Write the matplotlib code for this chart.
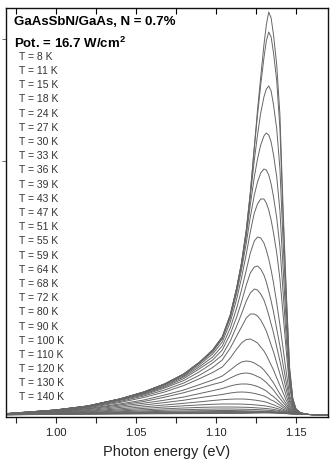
import numpy as np
import matplotlib
matplotlib.use("Agg")
import matplotlib.pyplot as plt
from matplotlib.ticker import MultipleLocator

plt.rcParams["font.family"] = ["Liberation Sans", "DejaVu Sans"]
plt.rcParams["mathtext.fontset"] = "custom"
plt.rcParams["mathtext.rm"] = "Liberation Sans"
plt.rcParams["mathtext.bf"] = "Liberation Sans:bold"

# ── Data (arbitrary PL units) ────────────────────────────────
temps = [8, 11, 15, 18, 24, 27, 30, 33, 36, 39, 43, 47, 51, 55, 59,
         64, 68, 72, 80, 90, 100, 110, 120, 130, 140]

energy = [0.970, 1.000, 1.020, 1.040, 1.055, 1.068, 1.080, 1.090, 1.098,
          1.104, 1.109, 1.113, 1.116, 1.119, 1.1215, 1.124, 1.126, 1.128,
          1.130, 1.1315, 1.133, 1.1345, 1.136, 1.138, 1.140, 1.142, 1.144,
          1.146, 1.148, 1.150, 1.153, 1.158, 1.170]

spectra = [
    [1.5, 5, 9, 16, 23, 31, 41, 53, 65, 78, 100, 127, 152, 185, 222, 268, 305, 338, 370, 390, 403, 397, 380, 350, 300, 205, 122, 48, 17, 6, 2, 0.5, 0],
    [1.5, 5, 9, 16, 23, 31, 41, 53, 65, 78, 100, 127, 152, 185, 222, 267, 300, 330, 357, 374, 383, 378, 362, 334, 286, 196, 117, 46, 16, 6, 2, 0.5, 0],
    [1.5, 5, 9, 16, 23, 31, 41, 53, 65, 78, 100, 127, 151, 183, 218, 255, 280, 302, 318, 326, 329, 324, 310, 286, 246, 172, 105, 42, 15, 6, 2, 0.5, 0],
    [1.5, 5, 9, 16, 23, 31, 41, 53, 64, 77, 99, 125, 149, 179, 210, 238, 256, 270, 279, 282, 280, 273, 260, 238, 204, 146, 90, 37, 14, 5.5, 2, 0.5, 0],
    [1.4, 5, 9, 16, 22.5, 30.5, 40, 52, 63, 76, 97, 122, 145, 172, 198, 220, 233, 242, 246, 245, 240, 231, 218, 197, 168, 122, 76, 32, 12, 5, 2, 0.5, 0],
    [1.4, 5, 9, 16, 22, 30, 39, 50.5, 61, 73, 93, 116, 137, 161, 183, 202, 211, 216, 216, 212, 205, 195, 182, 162, 136, 100, 63, 28, 11, 5, 2, 0.5, 0],
    [1.4, 4.8, 8.8, 15.5, 21.5, 29, 38, 48.5, 58, 69, 87, 107, 125, 145, 162, 174, 178, 177, 172, 165, 156, 145, 132, 112, 90, 66, 42, 20, 9, 4.5, 2, 0.5, 0],
    [1.3, 4.6, 8.5, 15, 21, 28, 36.5, 46.5, 55, 65, 81, 98, 113, 130, 142, 148, 149, 146, 140, 133, 124, 114, 103, 86, 69, 50, 32, 16, 7.5, 4, 1.8, 0.5, 0],
    [1.3, 4.4, 8.2, 14.5, 20, 27, 34.5, 43.5, 52, 60, 74, 89, 101, 114, 122, 126, 125, 121, 115, 108, 100, 91, 82, 68, 54, 39, 25, 13, 6.5, 3.5, 1.7, 0.5, 0],
    [1.2, 4.2, 7.8, 13.5, 19, 25, 32, 40, 47.5, 55, 67, 79, 88, 97, 101, 101, 99, 95, 89, 84, 77, 70, 63, 52, 41, 30, 19, 10, 5.5, 3, 1.6, 0.5, 0],
    [1.1, 4, 7.2, 12.5, 17.5, 23, 29.5, 36.5, 42.5, 48, 57, 66, 72, 75.5, 76, 74, 72, 68, 64, 60, 55, 50, 45, 37, 29.5, 22, 14.5, 8, 4.5, 2.7, 1.5, 0.5, 0],
    [1, 3.6, 6.5, 11, 15, 20, 25, 30.5, 35, 39, 45, 50, 53, 54, 53.5, 52, 50, 48, 45, 42, 39, 35.5, 32, 26.5, 21, 16, 11, 6.5, 3.8, 2.4, 1.4, 0.5, 0],
    [1, 3.3, 6, 10, 13.5, 17.8, 22.3, 26.8, 30.5, 33, 37, 40, 41.5, 42, 41.5, 40, 38.5, 37, 34.5, 32.5, 30, 27.5, 25, 20.5, 16.5, 12.5, 8.8, 5.5, 3.3, 2.2, 1.3, 0.5, 0],
    [0.9, 3, 5.3, 8.8, 11.8, 14.8, 18, 21.5, 24.3, 26.5, 29, 30.5, 31, 31, 30.5, 29.5, 28.5, 27, 25.5, 24, 22, 20, 18.5, 15.5, 12.5, 9.5, 7, 4.5, 2.9, 2, 1.2, 0.5, 0],
    [0.8, 2.6, 4.5, 7.5, 10, 12.4, 14.8, 17.3, 19.2, 20.5, 22, 22.8, 23, 22.8, 22.3, 21.6, 20.8, 20, 19, 18, 16.5, 15, 14, 12, 9.8, 7.5, 5.6, 3.8, 2.6, 1.8, 1.1, 0.5, 0],
    [0.7, 2.2, 3.8, 6.2, 8.2, 10, 11.7, 13.2, 14.5, 15.3, 15.8, 16, 16, 15.8, 15.4, 15, 14.5, 14, 13.4, 12.8, 12, 11, 10.2, 8.8, 7.4, 5.8, 4.4, 3.1, 2.2, 1.6, 1, 0.5, 0],
    [0.6, 1.8, 3.2, 5.1, 6.6, 8, 9.2, 10.1, 10.7, 11, 11, 11, 10.9, 10.7, 10.5, 10.2, 9.9, 9.6, 9.3, 8.9, 8.5, 8, 7.5, 6.6, 5.6, 4.5, 3.5, 2.6, 1.9, 1.4, 0.9, 0.5, 0],
    [0.5, 1.5, 2.6, 4.1, 5.2, 6.2, 7, 7.6, 7.9, 8, 8, 7.9, 7.8, 7.7, 7.5, 7.3, 7.1, 6.9, 6.7, 6.5, 6.2, 5.9, 5.6, 5, 4.3, 3.6, 2.9, 2.2, 1.7, 1.3, 0.9, 0.5, 0],
    [0.5, 1.3, 2.2, 3.3, 4.1, 4.8, 5.3, 5.7, 5.9, 6, 6, 5.9, 5.8, 5.7, 5.6, 5.5, 5.4, 5.2, 5.1, 4.9, 4.7, 4.5, 4.3, 3.9, 3.4, 2.9, 2.4, 1.9, 1.5, 1.2, 0.9, 0.5, 0],
    [0.4, 1.1, 1.8, 2.6, 3.2, 3.7, 4.0, 4.3, 4.4, 4.5, 4.5, 4.4, 4.3, 4.2, 4.1, 4.0, 3.95, 3.9, 3.85, 3.8, 3.7, 3.5, 3.3, 3.0, 2.7, 2.3, 1.9, 1.6, 1.3, 1.1, 0.9, 0.5, 0],
    [0.4, 1, 1.5, 2.1, 2.5, 2.9, 3.1, 3.3, 3.4, 3.5, 3.5, 3.4, 3.4, 3.3, 3.3, 3.3, 3.35, 3.4, 3.4, 3.35, 3.3, 3.2, 3.0, 2.7, 2.4, 2.1, 1.8, 1.5, 1.2, 1.0, 0.9, 0.5, 0],
    [0.3, 0.9, 1.3, 1.8, 2.1, 2.4, 2.6, 2.7, 2.8, 2.9, 2.9, 2.9, 2.9, 2.9, 2.95, 3.0, 3.05, 3.1, 3.1, 3.05, 3.0, 2.9, 2.75, 2.5, 2.2, 1.9, 1.7, 1.4, 1.2, 1.0, 0.9, 0.5, 0],
    [0.3, 0.8, 1.1, 1.5, 1.8, 2.0, 2.1, 2.2, 2.3, 2.3, 2.4, 2.4, 2.4, 2.5, 2.55, 2.6, 2.7, 2.75, 2.8, 2.75, 2.7, 2.6, 2.5, 2.3, 2.0, 1.8, 1.6, 1.3, 1.1, 1.0, 0.9, 0.5, 0],
    [0.3, 0.7, 0.95, 1.25, 1.45, 1.6, 1.7, 1.8, 1.85, 1.9, 1.95, 2.0, 2.0, 2.1, 2.2, 2.3, 2.35, 2.4, 2.45, 2.45, 2.4, 2.3, 2.2, 2.05, 1.85, 1.65, 1.5, 1.25, 1.1, 1.0, 0.9, 0.5, 0],
    [0.2, 0.6, 0.8, 1.0, 1.15, 1.25, 1.35, 1.4, 1.45, 1.5, 1.55, 1.6, 1.65, 1.7, 1.8, 1.9, 1.95, 2.0, 2.05, 2.05, 2.0, 1.95, 1.9, 1.8, 1.65, 1.5, 1.35, 1.2, 1.05, 1.0, 0.9, 0.5, 0],
]

xticks = [1.00, 1.05, 1.10, 1.15]

# ── Plot ───────────────────────────────────────────────────
fig = plt.figure(figsize=(3.32, 4.60), dpi=100)
ax = fig.add_axes([6 / 332, 42 / 460, 322 / 332, 409 / 460])

for s in spectra:
    ax.plot(energy, s, color="#666666", lw=0.7)

ax.set_xlim(0.969, 1.170)
ax.set_ylim(-2, 407)

ax.set_xticks(xticks)
ax.set_xticklabels([f"{t:.2f}" for t in xticks])
ax.xaxis.set_minor_locator(MultipleLocator(0.025))
ax.tick_params(axis="x", which="both", direction="out", length=4, width=0.8,
               labelsize=8, colors="#222222", top=False)
ax.set_yticks([376, 254])
ax.set_yticklabels([])
ax.tick_params(axis="y", direction="out", length=3, width=0.6, colors="#555555")

# inward ticks on the top edge
top = ax.secondary_xaxis("top")
top.set_xticks(xticks)
top.xaxis.set_minor_locator(MultipleLocator(0.025))
top.tick_params(axis="x", which="both", direction="in", length=4, width=0.8,
                labeltop=False)
top.spines["top"].set_visible(False)

for sp in ax.spines.values():
    sp.set_linewidth(1.0)
    sp.set_color("#111111")

ax.set_xlabel("Photon energy (eV)", fontsize=10.5, color="#222222", labelpad=5)

ax.text(0.025, 0.968, "GaAsSbN/GaAs, N = 0.7%", transform=ax.transAxes,
        fontsize=9.5, fontweight="bold", va="center", ha="left")
ax.text(0.025, 0.916, r"Pot. = 16.7 W/cm$^{\mathregular{2}}$", transform=ax.transAxes,
        fontsize=9.5, fontweight="bold", va="center", ha="left")

for i, t in enumerate(temps):
    ax.text(0.040, 0.883 - i * 0.0347, f"T = {t} K", transform=ax.transAxes,
            fontsize=7.5, color="#333333", va="center", ha="left")

fig.savefig("out.png", dpi=100)
